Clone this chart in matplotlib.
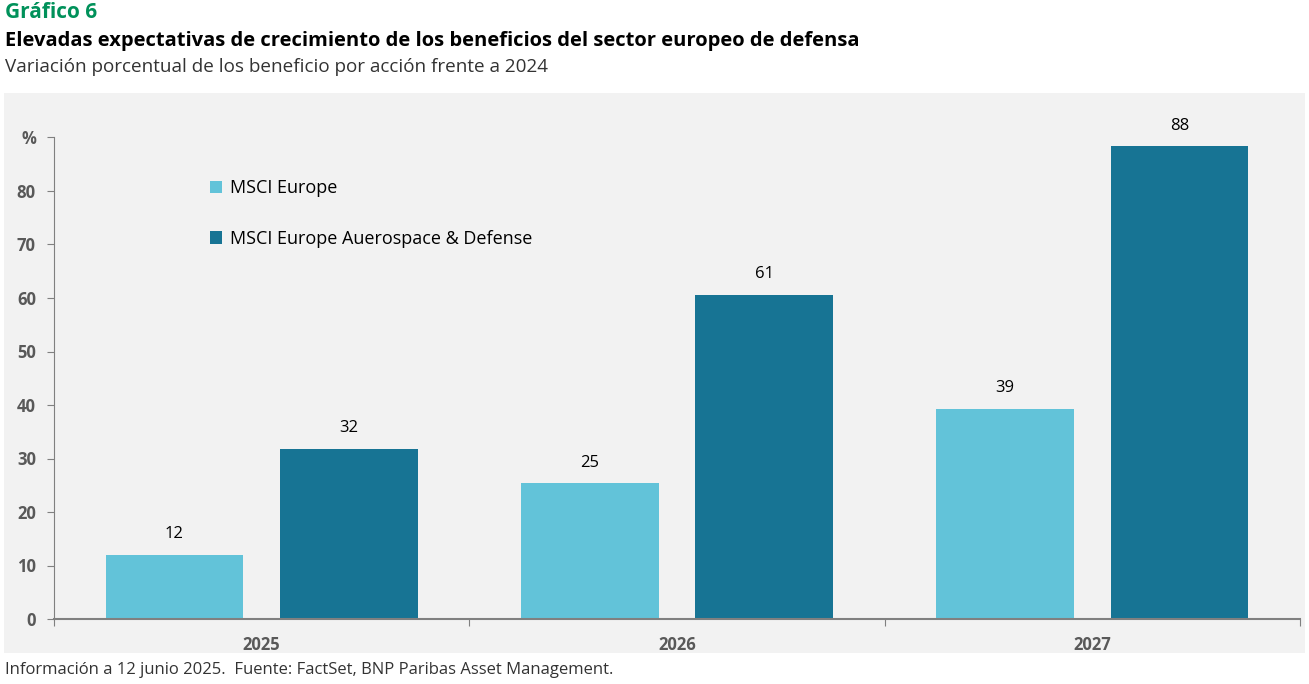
import numpy as np
import matplotlib.pyplot as plt

plt.rcParams['font.family'] = ['Open Sans', 'DejaVu Sans']

years = ['2025', '2026', '2027']
msci_europe = [12.0, 25.4, 39.3]
msci_defense = [31.8, 60.6, 88.4]
series_names = ['MSCI Europe', 'MSCI Europe Auerospace & Defense']
ytick_vals = [0, 10, 20, 30, 40, 50, 60, 70, 80, 90]
ytick_labels = ['0', '10', '20', '30', '40', '50', '60', '70', '80', '%']

light = '#62C3D9'
dark = '#177494'
panel = '#F2F2F2'
green = '#00915A'
axis_grey = '#808080'
tick_grey = '#595959'

fig = plt.figure(figsize=(13.09, 6.84), dpi=100)
fig.patch.set_facecolor('white')

# grey panel behind the chart
bg = fig.add_axes([4/1309, 1-653/684, 1301/1309, 560/684])
bg.set_facecolor(panel)
bg.set_xticks([])
bg.set_yticks([])
for s in bg.spines.values():
    s.set_visible(False)

ax = fig.add_axes([54/1309, 1-619/684, (1300-54)/1309, (619-137.5)/684])
ax.set_facecolor(panel)

x = np.arange(len(years))
w = 0.332
off = 0.21
b1 = ax.bar(x - off, msci_europe, w, color=light, label=series_names[0], zorder=2)
b2 = ax.bar(x + off, msci_defense, w, color=dark, label=series_names[1], zorder=2)

for bars, vals in [(b1, msci_europe), (b2, msci_defense)]:
    for rect, v in zip(bars, vals):
        ax.annotate(f'{v:.0f}', (rect.get_x() + rect.get_width()/2, v),
                    xytext=(0, 9), textcoords='offset points',
                    ha='center', va='bottom', fontsize=12, color='black',
                    fontweight='medium')

ax.set_xlim(-0.5, 2.5)
ax.set_ylim(0, 90)
ax.set_yticks(ytick_vals)
ax.set_yticklabels(ytick_labels)
ax.set_xticks([-0.5, 0.5, 1.5, 2.5])
ax.set_xticklabels([])
ax.set_xticks(x, minor=True)
ax.set_xticklabels(years, minor=True)
ax.tick_params(axis='x', which='minor', length=0, pad=12)
ax.tick_params(axis='x', which='major', length=5, color=axis_grey)
ax.tick_params(axis='y', length=5, color=axis_grey, pad=8)
for lab in ax.get_yticklabels() + ax.get_xticklabels(minor=True):
    lab.set_color(tick_grey)
    lab.set_fontsize(12)
    lab.set_fontweight('bold')

for s in ['top', 'right']:
    ax.spines[s].set_visible(False)
ax.spines['left'].set_color(axis_grey)
ax.spines['bottom'].set_color(axis_grey)
ax.spines['bottom'].set_linewidth(1.5)

leg = ax.legend(loc='upper left', bbox_to_anchor=(0.112, 0.947), frameon=False,
                fontsize=13, labelspacing=1.82, handlelength=0.7, handleheight=0.7,
                handletextpad=0.4)

fig.text(5/1309, 1-12/684, 'Gráfico 6', color=green, fontsize=15,
         fontweight='bold', va='center', ha='left')
fig.text(5/1309, 1-41/684,
         'Elevadas expectativas de crecimiento de los beneficios del sector europeo de defensa',
         color='black', fontsize=14.5, fontweight='bold', va='center', ha='left')
fig.text(5/1309, 1-67/684, 'Variación porcentual de los beneficio por acción frente a 2024',
         color='#333333', fontsize=13.6, va='center', ha='left')
fig.text(5/1309, 1-670/684,
         'Información a 12 junio 2025.  Fuente: FactSet, BNP Paribas Asset Management.',
         color='#333333', fontsize=12, va='center', ha='left')

plt.savefig('out.png', dpi=100)
